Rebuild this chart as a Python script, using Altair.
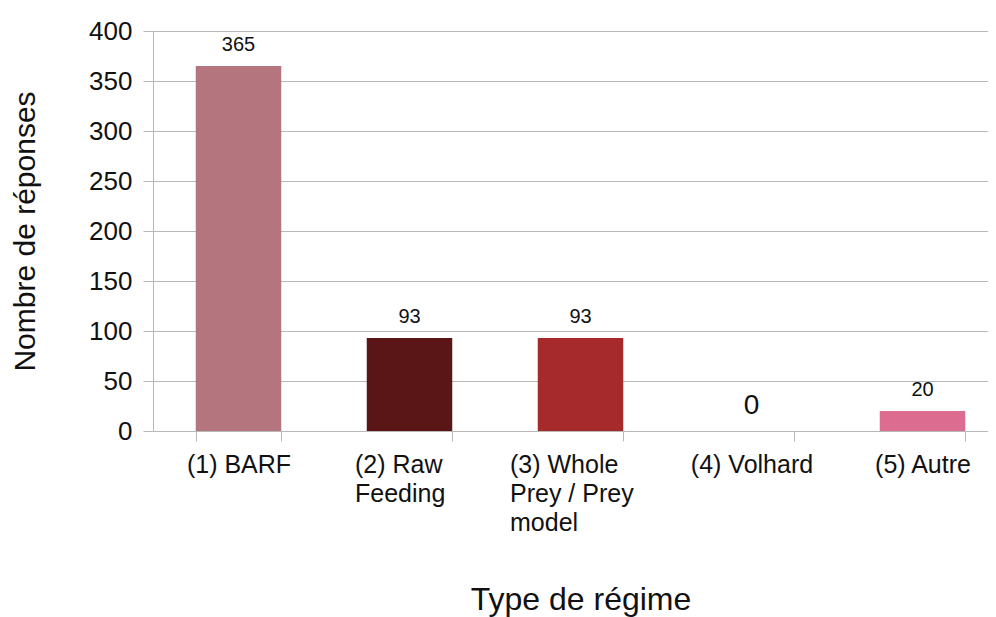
import altair as alt
import pandas as pd

label_lines = [
    ["(1) BARF"],
    ["(2) Raw", "Feeding"],
    ["(3) Whole", "Prey / Prey", "model"],
    ["(4) Volhard"],
    ["(5) Autre"],
]
categories = ["\n".join(l) for l in label_lines]
values = [365, 93, 93, 0, 20]
colors = ["#b5757e", "#5a1616", "#a6292b", "#b5757e", "#dc6c90"]
y_ticks = [0, 50, 100, 150, 200, 250, 300, 350, 400]

df = pd.DataFrame({"cat": categories, "value": values})

FONT = "Liberation Sans"
GRID = "#b8b8b8"

multi = "isString(datum.value) && indexof(datum.value, '\\n') >= 0"

x_enc = alt.X(
    "cat:N",
    sort=categories,
    scale=alt.Scale(paddingInner=0.5, paddingOuter=0.25, range=[0, 855]),
    axis=alt.Axis(
        title="Type de régime",
        titleFontSize=32,
        titleFontWeight="normal",
        titleFont=FONT,
        titleColor="#111111",
        titleBaseline="middle",
        titleY=168,
        labelExpr='isString(datum.value) ? split(datum.value, "\\n") : ""',
        labelFont=FONT,
        labelFontSize=25,
        labelColor="#111111",
        labelAngle=0,
        labelAlign={"condition": {"test": multi, "value": "left"}, "value": "center"},
        labelOffset={
            "condition": [
                {"test": "isString(datum.value) && indexof(datum.value, 'Raw') >= 0", "value": -55},
                {"test": "isString(datum.value) && indexof(datum.value, 'Whole') >= 0", "value": -71},
            ],
            "value": 0,
        },
        labelBaseline="top",
        labelLineHeight=29,
        labelPadding=11,
        labelLimit=0,
        labelOverlap=False,
        labelFlush=False,
        tickBand="extent",
        tickSize=10,
        tickColor=GRID,
        domainColor=GRID,
        grid=False,
    ),
)

y_enc = alt.Y(
    "value:Q",
    scale=alt.Scale(domain=[0, 400], nice=False),
    axis=alt.Axis(
        title="Nombre de réponses",
        titleFontSize=30,
        titleFontWeight="normal",
        titleFont=FONT,
        titleColor="#111111",
        titleBaseline="middle",
        titleX=-128,
        titleY=200,
        values=y_ticks,
        labelFont=FONT,
        labelFontSize=26,
        labelColor="#111111",
        labelPadding=11,
        tickSize=10,
        tickColor=GRID,
        domainColor=GRID,
        grid=True,
        gridColor=GRID,
    ),
)

bars = alt.Chart(df).mark_bar().encode(
    x=x_enc,
    y=y_enc,
    color=alt.Color("cat:N", scale=alt.Scale(domain=categories, range=colors), legend=None),
)

text = alt.Chart(df).mark_text(baseline="bottom", dy=-11, font=FONT, color="#111111").encode(
    x=alt.X("cat:N", sort=categories),
    y="value:Q",
    text="value:Q",
    size=alt.when("datum.value == 0").then(alt.value(28)).otherwise(alt.value(20)),
)

chart = (
    alt.layer(bars, text)
    .properties(
        width=835,
        height=400,
        autosize=alt.AutoSizeParams(type="none"),
        padding={"left": 145, "top": 23, "right": 0, "bottom": 186},
    )
    .configure_view(stroke=None)
)

chart.save("out.html", embed_options={"renderer": "svg", "actions": False})
